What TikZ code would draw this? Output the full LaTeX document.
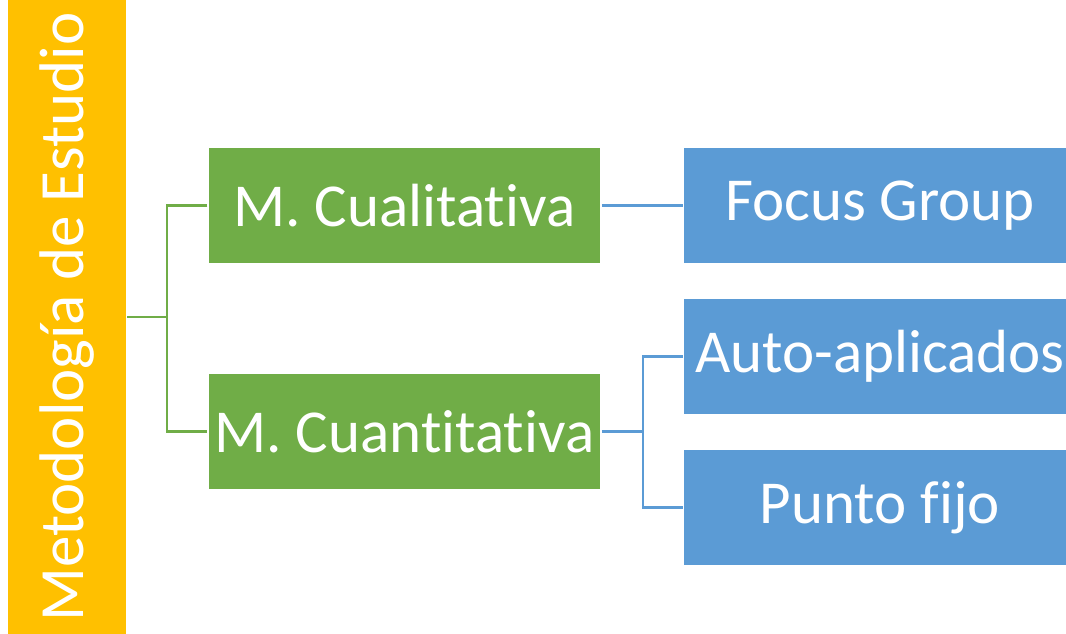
\documentclass[tikz,border=0pt]{standalone}
\usepackage{fontspec}
\setmainfont[Ligatures=NoCommon]{Carlito}
\usepackage{tikz}
\definecolor{metoorange}{HTML}{FFC000}
\definecolor{metogreen}{HTML}{70AD47}
\definecolor{metoblue}{HTML}{5B9BD5}
\begin{document}
\begin{tikzpicture}[x=1pt, y=1pt,
			box/.style={
				rectangle,
				draw=white,
				line width=1.5pt,
				inner sep=0pt,
				minimum width=393,
				minimum height=117,
				text=white,
				font=\fontsize{61}{72}\selectfont},
			greenbox/.style={box, fill=metogreen},
			bluebox/.style={box, fill=metoblue},
			greenline/.style={draw=metogreen, line width=2.2pt},
			blueline/.style={draw=metoblue, line width=2.2pt}]
			\clip (0, 0) rectangle (1066, 634);
			% raiz
			\node (meto) at (67, 317) [box, fill=metoorange,
				minimum width=640, minimum height=119, rotate=90,
				font=\fontsize{63}{72}\selectfont] {Metodología de Estudio};
			% metodos
			\node (cual) at (404.5, 428.5) [greenbox] {M. Cualitativa};
			\node (cuan) at (404.5, 202.5) [greenbox] {M. Cuantitativa};
			% tecnicas
			\node (focus) at (880, 428.5) [bluebox] {Focus Group};
			\node (auto) at (880, 277.5) [bluebox] {Auto-aplicados};
			\node (punto) at (880, 126.5) [bluebox] {Punto fijo};
			% conectores
			\draw[greenline] (meto.south) -- ++(40, 0) coordinate (gsplit);
			\draw[greenline] (cual.west) -| (gsplit) |- (cuan.west);
			\draw[blueline] (cual.east) -- (focus.west);
			\draw[blueline] (cuan.east) -- ++(41, 0) coordinate (bsplit);
			\draw[blueline] (auto.west) -| (bsplit) |- (punto.west);
\end{tikzpicture}
\end{document}
